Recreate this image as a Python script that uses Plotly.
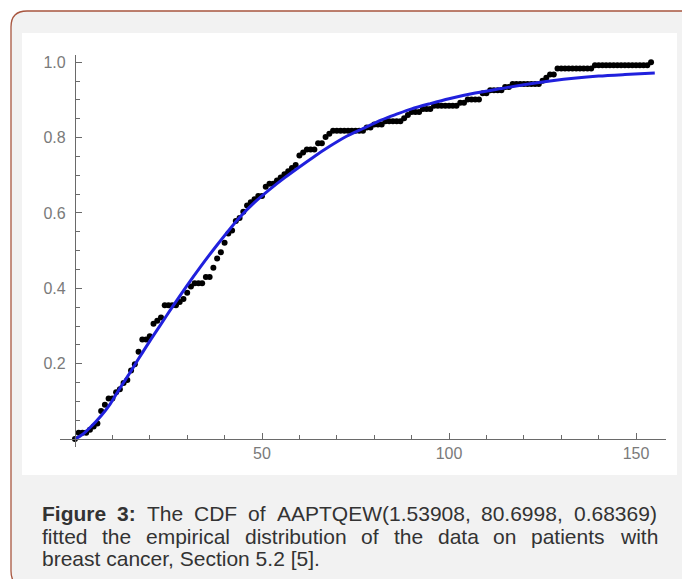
import plotly.graph_objects as go

# Remission times (months) of 121 breast cancer patients
remission_months = [
    0.3, 0.3, 4.0, 5.0, 5.6, 6.2, 6.3, 6.6, 6.8, 7.4, 7.5, 8.4, 8.4, 10.3, 11.0,
    11.8, 12.2, 12.3, 13.5, 14.4, 14.4, 14.8, 15.5, 15.7, 16.2, 16.3, 16.5, 16.8,
    17.2, 17.3, 17.5, 17.9, 19.8, 20.4, 20.9, 21.0, 21.0, 21.1, 23.0, 23.4, 23.6,
    24.0, 24.0, 27.9, 28.2, 29.1, 30.0, 31.0, 31.0, 32.0, 35.0, 35.0, 37.0, 37.0,
    37.0, 38.0, 38.0, 38.0, 39.0, 39.0, 40.0, 40.0, 40.0, 41.0, 41.0, 41.0, 42.0,
    43.0, 43.0, 43.0, 44.0, 45.0, 45.0, 46.0, 46.0, 47.0, 48.0, 49.0, 51.0, 51.0,
    51.0, 52.0, 54.0, 55.0, 56.0, 57.0, 58.0, 59.0, 60.0, 60.0, 60.0, 61.0, 62.0,
    65.0, 65.0, 67.0, 67.0, 68.0, 69.0, 78.0, 80.0, 83.0, 88.0, 89.0, 90.0, 93.0,
    96.0, 103.0, 105.0, 109.0, 109.0, 111.0, 115.0, 117.0, 125.0, 126.0, 127.0,
    129.0, 129.0, 139.0, 154.0,
]

# Points at which the empirical CDF is evaluated
ecdf_grid = list(range(0, 155))

# Fitted AAPTQEW(1.53908, 80.6998, 0.68369) CDF, sampled
fit_x = [0, 2, 4, 7, 9.4, 12, 14.7, 17, 20, 23, 26, 30, 33.4, 38, 44, 48, 52, 56,
         60, 64, 68, 72, 77, 82, 86, 90, 95, 100, 107, 114, 120, 127, 134, 140,
         147, 155]
fit_y = [0.0, 0.012, 0.03, 0.062, 0.093, 0.135, 0.176, 0.213, 0.26, 0.305, 0.35,
         0.408, 0.455, 0.515, 0.588, 0.628, 0.662, 0.693, 0.722, 0.75, 0.776, 0.8,
         0.824, 0.847, 0.862, 0.876, 0.89, 0.903, 0.918, 0.93, 0.94, 0.95, 0.958,
         0.963, 0.967, 0.971]

y_ticks = [0.2, 0.4, 0.6, 0.8, 1.0]
y_ticktext = ["0.2", "0.4", "0.6", "0.8", "1.0"]
y_minor = [0.05, 0.1, 0.15, 0.25, 0.3, 0.35, 0.45, 0.5, 0.55, 0.65, 0.7, 0.75,
           0.85, 0.9, 0.95]
x_ticks = [50, 100, 150]
x_minor = [10, 20, 30, 40, 60, 70, 80, 90, 110, 120, 130, 140]

caption_line1 = [("Figure", True), ("3:", True), ("The", False), ("CDF", False),
                 ("of", False), ("AAPTQEW(1.53908,", False), ("80.6998,", False),
                 ("0.68369)", False)]
caption_line2 = "fitted the empirical distribution of the data on patients with"
caption_line3 = "breast cancer, Section 5.2 [5]."

n = len(remission_months)
ecdf_y = [sum(1 for v in remission_months if v <= g) / n for g in ecdf_grid]

W, H = 682, 579
ML, MR, MT, MB = 60, 16, 55, 132
PW, PH = W - ML - MR, H - MT - MB
X_RANGE = [-4, 158]
Y_RANGE = [-0.021, 1.019]


def paper_x(p):
    return (p - ML) / PW


def paper_y(p):
    return (H - MB - p) / PH


AXIS_COL = "#6a6a6a"
LABEL_COL = "#7a7a7a"
CAP_FONT = "Liberation Sans, Arial, sans-serif"

fig = go.Figure()
fig.add_trace(go.Scatter(
    x=ecdf_grid, y=ecdf_y, mode="markers",
    marker=dict(color="black", size=6, line=dict(width=0)),
    showlegend=False, cliponaxis=False,
))
fig.add_trace(go.Scatter(
    x=fit_x, y=fit_y, mode="lines",
    line=dict(color="#2020dd", width=3, shape="spline", smoothing=0.8),
    showlegend=False,
))

# Frame: rounded border, grey panel, white chart area
x0, y0, x1, y1, r = 11, 11, 700, 587, 16
path = (
    f"M {paper_x(x0)} {paper_y(y0 + r)} "
    f"Q {paper_x(x0)} {paper_y(y0)} {paper_x(x0 + r)} {paper_y(y0)} "
    f"L {paper_x(x1 - r)} {paper_y(y0)} "
    f"Q {paper_x(x1)} {paper_y(y0)} {paper_x(x1)} {paper_y(y0 + r)} "
    f"L {paper_x(x1)} {paper_y(y1 - r)} "
    f"Q {paper_x(x1)} {paper_y(y1)} {paper_x(x1 - r)} {paper_y(y1)} "
    f"L {paper_x(x0 + r)} {paper_y(y1)} "
    f"Q {paper_x(x0)} {paper_y(y1)} {paper_x(x0)} {paper_y(y1 - r)} Z"
)
shapes = [
    dict(type="path", path=path, xref="paper", yref="paper", layer="below",
         fillcolor="#f2f2f2", line=dict(color="#a8563f", width=1.3)),
    dict(type="rect", xref="paper", yref="paper", layer="below",
         x0=paper_x(22), x1=paper_x(677), y0=paper_y(475), y1=paper_y(33),
         fillcolor="white", line=dict(width=0)),
]

# Caption, justified between left and right edges
REG = {" ": 278, "(": 333, ")": 333, ",": 278, ".": 278, ":": 278, "[": 278,
       "]": 278, "A": 667, "C": 722, "D": 722, "E": 667, "F": 611, "P": 667,
       "Q": 778, "S": 667, "T": 611, "W": 944, "a": 556, "b": 556, "c": 500,
       "d": 556, "e": 556, "f": 278, "h": 556, "i": 222, "l": 222, "m": 833,
       "n": 556, "o": 556, "p": 556, "r": 333, "s": 500, "t": 278, "u": 556,
       "w": 722}
BOLD = {"F": 611, "i": 278, "g": 611, "u": 611, "r": 389, "e": 556, "3": 556,
        ":": 333}
FS = 21
CAP_L, CAP_R = 40, 655
LINE_Y = [513, 536, 558]

annotations = []


def word_width(word, bold):
    table = BOLD if bold else REG
    return sum(table.get(ch, 556) for ch in word) * FS / 1000


def justified(tokens, mid):
    widths = [word_width(w, b) for w, b in tokens]
    gap = (CAP_R - CAP_L - sum(widths)) / (len(tokens) - 1)
    xpos = CAP_L
    for (w, b), wd in zip(tokens, widths):
        annotations.append(dict(
            x=paper_x(xpos), y=paper_y(mid), xref="paper", yref="paper",
            xanchor="left", yanchor="middle", showarrow=False,
            text=f"<b>{w}</b>" if b else w,
            font=dict(family=CAP_FONT, size=FS, color="#333333")))
        xpos += wd + gap


justified(caption_line1, LINE_Y[0])
justified([(w, False) for w in caption_line2.split(" ")], LINE_Y[1])
annotations.append(dict(
    x=paper_x(CAP_L), y=paper_y(LINE_Y[2]), xref="paper", yref="paper",
    xanchor="left", yanchor="middle", showarrow=False, text=caption_line3,
    font=dict(family=CAP_FONT, size=FS, color="#333333")))

x_pos = (0 - Y_RANGE[0]) / (Y_RANGE[1] - Y_RANGE[0])
y_pos = (0 - X_RANGE[0]) / (X_RANGE[1] - X_RANGE[0])

fig.update_layout(
    width=W, height=H, autosize=False,
    margin=dict(l=ML, r=MR, t=MT, b=MB, pad=0),
    paper_bgcolor="white", plot_bgcolor="rgba(0,0,0,0)",
    shapes=shapes, annotations=annotations,
    xaxis=dict(
        range=X_RANGE, anchor="free", position=x_pos, showgrid=False,
        zeroline=False, showline=True, linecolor=AXIS_COL, linewidth=1.2,
        tickmode="array", tickvals=x_ticks, ticktext=[str(v) for v in x_ticks],
        ticks="inside", ticklen=6, tickwidth=1.2, tickcolor=AXIS_COL,
        ticklabelstandoff=0,
        tickfont=dict(family=CAP_FONT, size=16, color=LABEL_COL),
        minor=dict(tickmode="array", tickvals=x_minor, ticks="inside",
                   ticklen=4, tickwidth=1, tickcolor=AXIS_COL),
    ),
    yaxis=dict(
        range=Y_RANGE, anchor="free", position=y_pos, showgrid=False,
        zeroline=False, showline=True, linecolor=AXIS_COL, linewidth=1.2,
        tickmode="array", tickvals=y_ticks, ticktext=y_ticktext,
        ticks="inside", ticklen=6, tickwidth=1.2, tickcolor=AXIS_COL,
        ticklabelstandoff=6,
        tickfont=dict(family=CAP_FONT, size=16, color=LABEL_COL),
        minor=dict(tickmode="array", tickvals=y_minor, ticks="inside",
                   ticklen=4, tickwidth=1, tickcolor=AXIS_COL),
    ),
)

fig.write_html("out.html")
